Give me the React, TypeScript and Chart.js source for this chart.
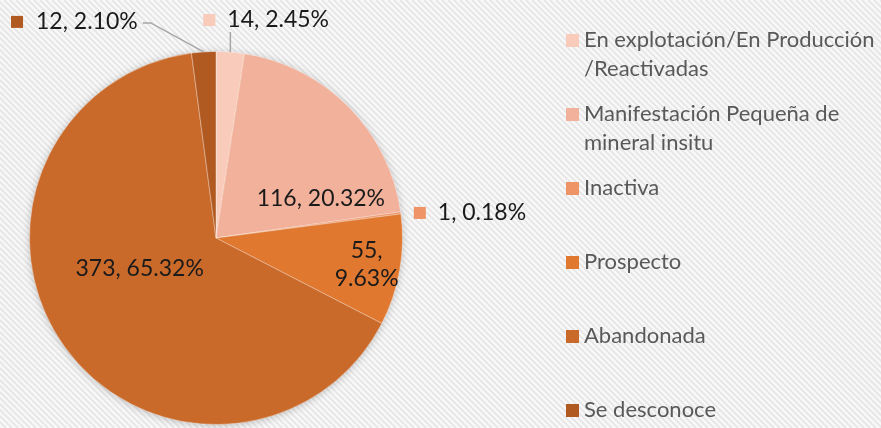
import React, { useEffect, useRef } from "react";
import { Chart, registerables } from "chart.js";

Chart.register(...registerables);

const categories = [
  "En explotación/En Producción /Reactivadas",
  "Manifestación Pequeña de mineral insitu",
  "Inactiva",
  "Prospecto",
  "Abandonada",
  "Se desconoce",
];
const legendLines = [
  ["En explotación/En Producción", "/Reactivadas"],
  ["Manifestación Pequeña de", "mineral insitu"],
  ["Inactiva"],
  ["Prospecto"],
  ["Abandonada"],
  ["Se desconoce"],
];
const values = [14, 116, 1, 55, 373, 12];
const colors = ["#F8CBBA", "#F2B19A", "#EE9467", "#E07830", "#C96A2B", "#B05A22"];

const W = 881;
const H = 428;
const FONT = "Lato, 'Open Sans', sans-serif";

const total = values.reduce((a, b) => a + b, 0);
const pct = (v: number) => ((v / total) * 100).toFixed(2) + "%";

// label placement: inside (angle fraction, radius fraction, wrap) or callouts
const placements: any[] = [
  { kind: "calloutUp" },
  { kind: "inside", af: 0.83, rf: 0.6, wrap: false },
  { kind: "calloutRight" },
  { kind: "inside", af: 0.5, rf: 0.82, wrap: true },
  { kind: "inside", af: 0.558, rf: 0.44, wrap: false },
  { kind: "calloutLeft" },
];

const bgPlugin = {
  id: "bgStripes",
  beforeDraw(chart: any) {
    const ctx = chart.ctx;
    ctx.save();
    ctx.fillStyle = "#F9F9F9";
    ctx.fillRect(0, 0, W, H);
    ctx.strokeStyle = "rgba(228,228,228,0.9)";
    ctx.lineWidth = 2;
    for (let k = -H; k < W + H; k += 6) {
      ctx.beginPath();
      ctx.moveTo(k, 0);
      ctx.lineTo(k + H, H);
      ctx.stroke();
    }
    ctx.restore();
  },
  beforeDatasetsDraw(chart: any) {
    const meta = chart.getDatasetMeta(0);
    const a = meta.data[0];
    if (!a) return;
    const ctx = chart.ctx;
    ctx.save();
    ctx.shadowColor = "rgba(0,0,0,0.28)";
    ctx.shadowBlur = 9;
    ctx.shadowOffsetX = 0;
    ctx.shadowOffsetY = 1;
    ctx.fillStyle = "#C96A2B";
    ctx.beginPath();
    ctx.arc(a.x, a.y, a.outerRadius - 1, 0, Math.PI * 2);
    ctx.fill();
    ctx.restore();
  },
};

const labelPlugin = {
  id: "sliceLabels",
  afterDatasetsDraw(chart: any) {
    const ctx = chart.ctx;
    const meta = chart.getDatasetMeta(0);
    ctx.save();
    ctx.font = `23px ${FONT}`;
    ctx.fillStyle = "#1A1A1A";
    ctx.textBaseline = "middle";
    meta.data.forEach((arc: any, i: number) => {
      const p = placements[i];
      const v = values[i];
      const text = `${v}, ${pct(v)}`;
      const R = arc.outerRadius;
      const mid = (arc.startAngle + arc.endAngle) / 2;
      const ex = arc.x + Math.cos(mid) * R;
      const ey = arc.y + Math.sin(mid) * R;
      if (p.kind === "inside") {
        const ang = arc.startAngle + (arc.endAngle - arc.startAngle) * p.af;
        const cx = arc.x + Math.cos(ang) * R * p.rf;
        const cy = arc.y + Math.sin(ang) * R * p.rf;
        ctx.textAlign = "center";
        ctx.fillStyle = "#1A1A1A";
        if (p.wrap) {
          ctx.fillText(`${v},`, cx, cy - 14);
          ctx.fillText(pct(v), cx, cy + 14);
        } else {
          ctx.fillText(text, cx, cy);
        }
      } else if (p.kind === "calloutUp") {
        ctx.strokeStyle = "#A6A6A6";
        ctx.lineWidth = 1.5;
        ctx.beginPath();
        ctx.moveTo(ex, ey);
        ctx.lineTo(ex, ey - 20);
        ctx.stroke();
        const y = ey - 32;
        ctx.fillStyle = colors[i];
        ctx.fillRect(ex - 27, y - 6, 12, 12);
        ctx.fillStyle = "#1A1A1A";
        ctx.textAlign = "left";
        ctx.fillText(text, ex - 3, y);
      } else if (p.kind === "calloutLeft") {
        ctx.strokeStyle = "#A6A6A6";
        ctx.lineWidth = 1.5;
        const y = ey - 29;
        ctx.beginPath();
        ctx.moveTo(ex, ey);
        ctx.lineTo(ex - 53, y);
        ctx.lineTo(ex - 61, y);
        ctx.stroke();
        const tw = ctx.measureText(text).width;
        const tx = ex - 66 - tw;
        ctx.fillStyle = colors[i];
        ctx.fillRect(tx - 25, y - 7, 12, 12);
        ctx.fillStyle = "#1A1A1A";
        ctx.textAlign = "left";
        ctx.fillText(text, tx, y - 1);
      } else if (p.kind === "calloutRight") {
        ctx.fillStyle = colors[i];
        ctx.fillRect(ex + 13, ey - 6, 12, 12);
        ctx.fillStyle = "#1A1A1A";
        ctx.textAlign = "left";
        ctx.fillText(text, ex + 37, ey);
      }
    });
    ctx.restore();
  },
};

const legendPlugin = {
  id: "sideLegend",
  afterDraw(chart: any) {
    const ctx = chart.ctx;
    ctx.save();
    ctx.font = `22px ${FONT}`;
    ctx.textBaseline = "middle";
    ctx.textAlign = "left";
    const x0 = 566;
    const y0 = 40;
    const step = 74;
    const lh = 29;
    legendLines.forEach((lines, i) => {
      const y = y0 + step * i;
      ctx.fillStyle = colors[i];
      ctx.fillRect(x0, y - 6, 13, 13);
      ctx.fillStyle = "#595959";
      lines.forEach((ln, j) => ctx.fillText(ln, x0 + 18, y + j * lh));
    });
    ctx.restore();
  },
};

export default function App() {
  const ref = useRef<HTMLCanvasElement>(null);
  useEffect(() => {
    document.body.style.margin = "0";
    const chart = new Chart(ref.current as HTMLCanvasElement, {
      type: "pie",
      data: {
        labels: categories,
        datasets: [
          {
            data: values,
            backgroundColor: colors,
            borderColor: "rgba(255,255,255,0.35)",
            borderWidth: 1,
          },
        ],
      },
      options: {
        responsive: false,
        animation: false,
        layout: { padding: { left: 29, right: 478, top: 51, bottom: 3 } },
        plugins: { legend: { display: false }, tooltip: { enabled: false } },
      },
      plugins: [bgPlugin, labelPlugin, legendPlugin],
    });
    return () => chart.destroy();
  }, []);
  return (
    <div style={{ width: W, height: H }}>
      <canvas ref={ref} width={W} height={H} />
    </div>
  );
}
